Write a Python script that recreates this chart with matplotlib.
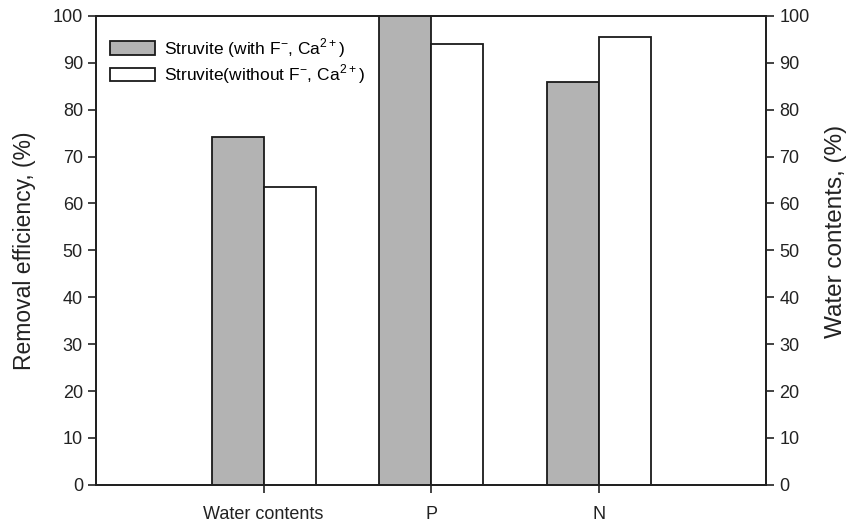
import numpy as np
import matplotlib.pyplot as plt
from matplotlib.patches import Patch

plt.rcParams['font.family'] = ['Liberation Sans', 'DejaVu Sans']
plt.rcParams['mathtext.fontset'] = 'custom'
plt.rcParams['mathtext.rm'] = 'Liberation Sans'

categories = ["Water contents", "P", "N"]
with_f_ca = [74.2, 100.0, 85.8]
without_f_ca = [63.4, 93.9, 95.5]
label_with = r"Struvite (with F$^{\mathrm{-}}$, Ca$^{2+}$)"
label_without = r"Struvite(without F$^{\mathrm{-}}$, Ca$^{2+}$)"

x = np.arange(1, len(categories) + 1)
w = 0.31
ink = "#222222"

fig = plt.figure(figsize=(8.58, 5.27), dpi=100)
ax = fig.add_axes([0.112, 0.08, 0.781, 0.89])

ax.bar(x - w / 2, with_f_ca, w, color="#b3b3b3", edgecolor="#1a1a1a", linewidth=1.3)
ax.bar(x + w / 2, without_f_ca, w, color="white", edgecolor="#1a1a1a", linewidth=1.3)

ax.set_xlim(0, 4)
ax.set_ylim(0, 100)
ax.set_xticks(x)
ax.set_xticklabels(categories)
ax.set_yticks(range(0, 101, 10))
ax.tick_params(axis="both", direction="out", length=6, width=1.2, labelsize=13, colors=ink)
ax.tick_params(axis="x", pad=9)
ax.set_ylabel("Removal efficiency, (%)", fontsize=16.5, color=ink, labelpad=12)
for s in ax.spines.values():
    s.set_linewidth(1.4)
    s.set_color(ink)

ax2 = ax.twinx()
ax2.set_ylim(0, 100)
ax2.set_yticks(range(0, 101, 10))
ax2.tick_params(axis="y", direction="out", length=6, width=1.2, labelsize=13, colors=ink)
ax2.set_ylabel("Water contents, (%)", fontsize=17.5, color=ink)
ax2.yaxis.set_label_coords(1.088, 0.54)
for s in ax2.spines.values():
    s.set_linewidth(1.4)
    s.set_color(ink)

handles = [Patch(facecolor="#b3b3b3", edgecolor="#1a1a1a", linewidth=1.3),
           Patch(facecolor="white", edgecolor="#1a1a1a", linewidth=1.3)]
ax.legend(handles, [label_with, label_without], loc="upper left",
          bbox_to_anchor=(-0.003, 0.99), frameon=False, fontsize=12.5,
          handlelength=2.6, handleheight=0.8, handletextpad=0.5, labelspacing=0.15)

fig.savefig("out.png", dpi=100)
